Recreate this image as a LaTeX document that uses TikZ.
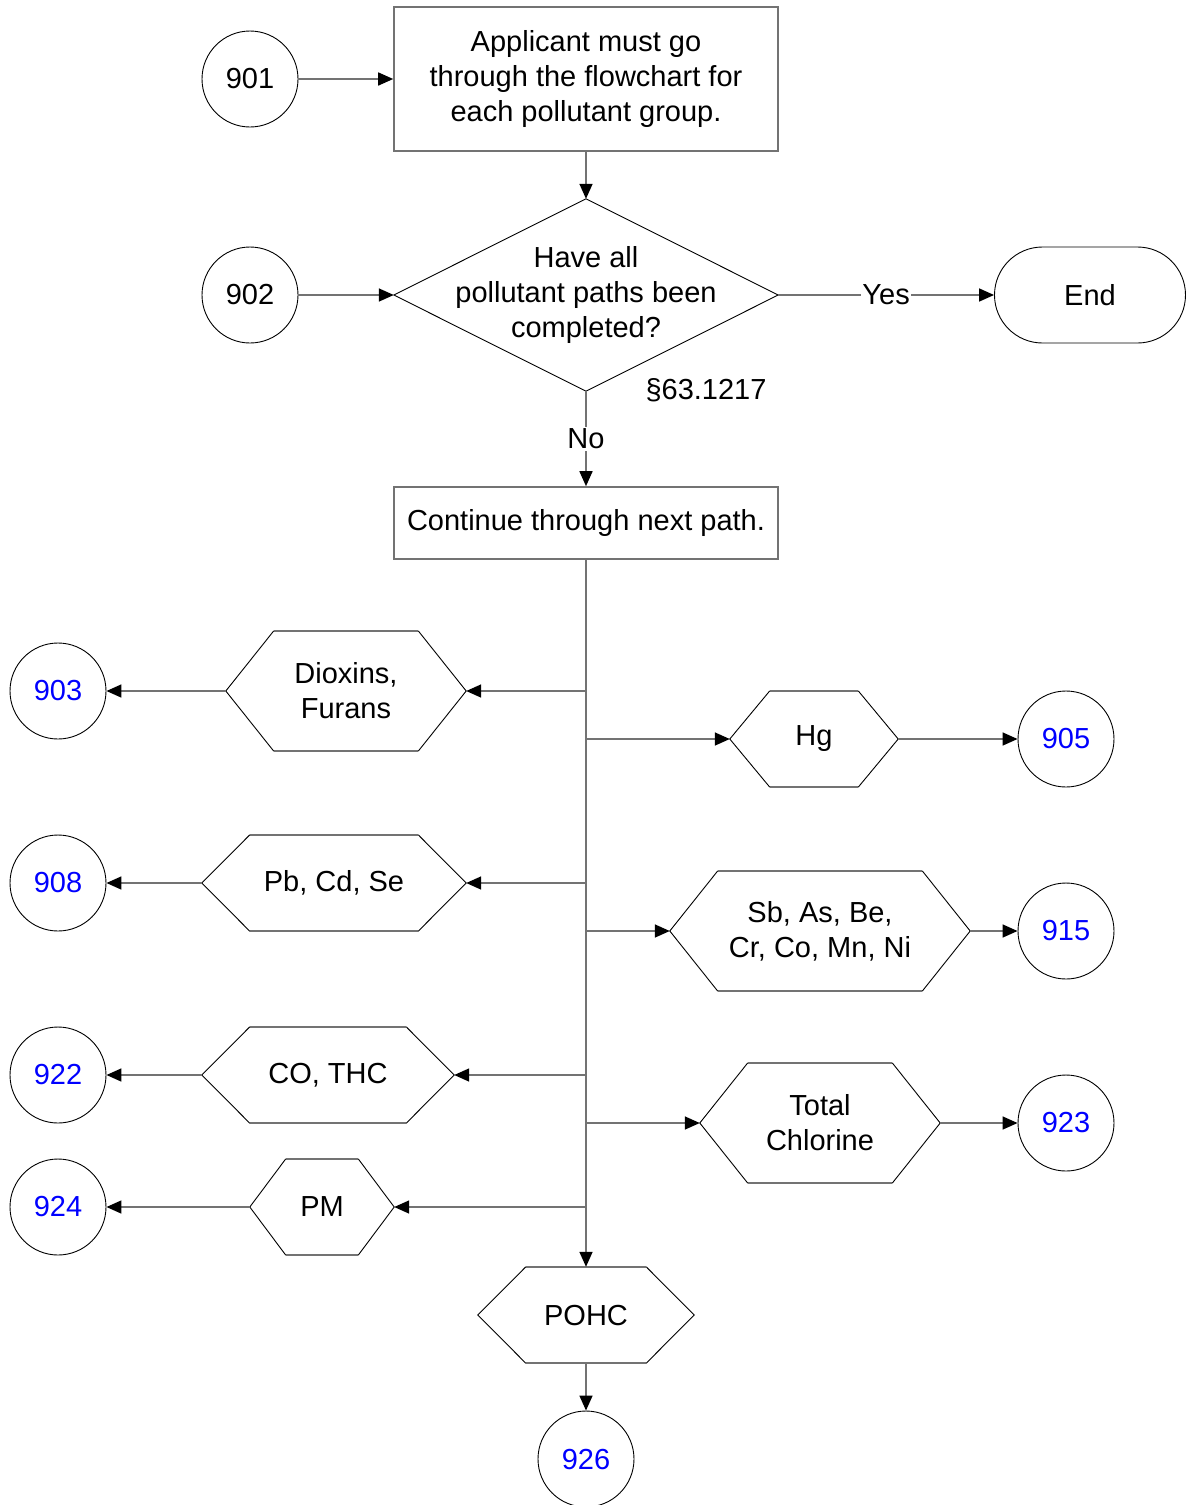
\documentclass[tikz,border=0pt]{standalone}
\usepackage{fontspec}
\setmainfont{Liberation Sans}
\usetikzlibrary{arrows.meta}
\tikzset{
  every node/.style={font=\fontsize{29}{35}\selectfont},
  ln/.style={draw=black!55, line width=1.6pt},
  thn/.style={draw=black, line width=0.9pt},
  arr/.style={ln, -{Triangle[length=15pt,width=13pt,black]}},
  conn/.style={thn, circle, minimum size=96pt, inner sep=0pt},
  ref/.style={conn, text=blue},
  box/.style={ln, rectangle, align=center, inner sep=0pt},
  term/.style={thn, rectangle, rounded corners=48pt, minimum width=191pt, minimum height=96pt},
  hex/.style={rectangle, inner sep=0pt, align=center},
}
\begin{document}
\begin{tikzpicture}[x=1pt, y=-1pt]
\useasboundingbox (0,0) rectangle (1186,1505);
\node[conn](n901) at (250,79){901};
\node[box, minimum width=384pt, minimum height=144pt](b1) at (586,79){Applicant must go\\through the flowchart for\\each pollutant group.};
\node[conn](n902) at (250,295){902};
\node[hex, minimum width=384pt, minimum height=192pt](d1) at (586,295){Have all\\pollutant paths been\\completed?};
\node[term](end) at (1090,295){End};
\node(sec) at (706,390){§63.1217};
\node[box, minimum width=384pt, minimum height=72pt](b2) at (586,523){Continue through next path.};
\draw[thn] (d1.west) -- (d1.north) -- (d1.east) -- (d1.south) -- cycle;

\node[hex, minimum width=240pt, minimum height=120pt](diox) at (346,691){Dioxins,\\Furans};
\node[hex, minimum width=168pt, minimum height=96pt](hg) at (814,739){Hg};
\node[hex, minimum width=264pt, minimum height=96pt](pb) at (334,883){Pb, Cd, Se};
\node[hex, minimum width=300pt, minimum height=120pt](sb) at (820,931){Sb, As, Be,\\Cr, Co, Mn, Ni};
\node[hex, minimum width=252pt, minimum height=96pt](co) at (328,1075){CO, THC};
\node[hex, minimum width=240pt, minimum height=120pt](tc) at (820,1123){Total\\Chlorine};
\node[hex, minimum width=144pt, minimum height=96pt](pm) at (322,1207){PM};
\node[hex, minimum width=216pt, minimum height=96pt](pohc) at (586,1315){POHC};

\node[ref](n903) at (58,691){903};
\node[ref](n905) at (1066,739){905};
\node[ref](n908) at (58,883){908};
\node[ref](n915) at (1066,931){915};
\node[ref](n922) at (58,1075){922};
\node[ref](n923) at (1066,1123){923};
\node[ref](n924) at (58,1207){924};
\node[ref](n926) at (586,1459){926};

\foreach \h/\d in {diox/48,hg/40,pb/48,sb/48,co/48,tc/48,pm/36,pohc/48}{
  \draw[ln] ([xshift=\d pt]\h.north west) -- ([xshift=-\d pt]\h.north east);
  \draw[ln] ([xshift=\d pt]\h.south west) -- ([xshift=-\d pt]\h.south east);
  \draw[thn] ([xshift=\d pt]\h.north west) -- (\h.west) -- ([xshift=\d pt]\h.south west);
  \draw[thn] ([xshift=-\d pt]\h.north east) -- (\h.east) -- ([xshift=-\d pt]\h.south east);
}

\draw[arr] (n901) -- (b1);
\draw[arr] (b1) -- (d1.north);
\draw[arr] (n902) -- (d1.west);
\draw[arr] (d1.east) -- node[fill=white, inner sep=1pt]{Yes} (end.west);
\draw[arr] (d1.south) -- node[fill=white, inner sep=2pt]{No} (b2.north);
\draw[arr] (b2) -- (pohc);
\foreach \h/\r in {diox/n903,pb/n908,co/n922,pm/n924}{
  \draw[arr] (b2.south |- \h.east) -- (\h.east);
  \draw[arr] (\h.west) -- (\r);
}
\foreach \h/\r in {hg/n905,sb/n915,tc/n923}{
  \draw[arr] (b2.south |- \h.west) -- (\h.west);
  \draw[arr] (\h.east) -- (\r);
}
\draw[arr] (pohc) -- (n926);
\end{tikzpicture}
\end{document}
